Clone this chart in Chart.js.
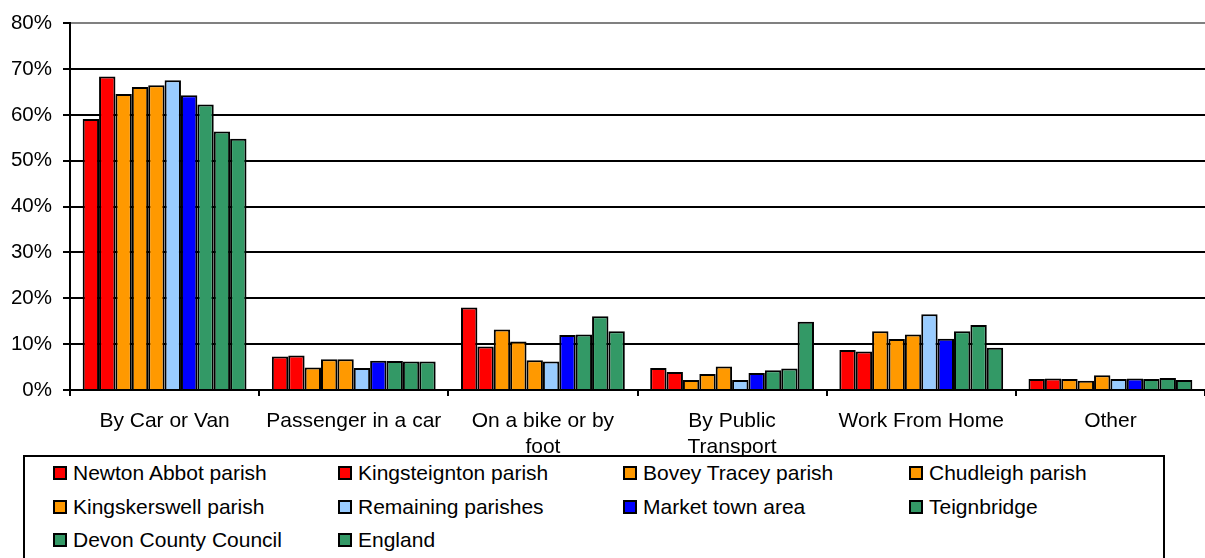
<!DOCTYPE html>
<html>
<head>
<meta charset="utf-8">
<script src="https://cdn.jsdelivr.net/npm/chart.js@4/dist/chart.umd.min.js"></script>
<style>
  html, body { margin: 0; padding: 0; background: #fff; }
  #wrap { position: relative; width: 1205px; height: 558px; overflow: hidden; }
  #legend {
    position: absolute; left: 23px; top: 455px; width: 1142px; height: 120px;
    border: 2px solid #000; background: #fff; box-sizing: border-box;
    font-family: "Liberation Sans", Arial, sans-serif; font-size: 21px; color: #000;
  }
  .item { position: absolute; display: flex; align-items: center; height: 24px; white-space: nowrap; }
  .sw { width: 10px; height: 10px; border: 2px solid #000; margin-right: 6px; }
</style>
</head>
<body>
<div id="wrap">
  <canvas id="c" width="1205" height="558"></canvas>
  <div id="legend"></div>
</div>
<script>
const categories = ['By Car or Van', 'Passenger in a car', ['On a bike or by', 'foot'], ['By Public', 'Transport'], 'Work From Home', 'Other'];
const yTicks = [0, 10, 20, 30, 40, 50, 60, 70, 80];

const newtonAbbot   = [59.1, 7.3, 18.0, 4.8, 8.7, 2.4];
const kingsteignton = [68.4, 7.5, 9.5, 3.9, 8.4, 2.5];
const boveyTracey   = [64.6, 4.9, 13.2, 2.2, 12.8, 2.4];
const chudleigh     = [66.1, 6.7, 10.6, 3.5, 11.1, 2.0];
const kingskerswell = [66.5, 6.7, 6.5, 5.1, 12.1, 3.2];
const remaining     = [67.6, 4.8, 6.2, 2.2, 16.5, 2.4];
const marketTown    = [64.3, 6.4, 12.0, 3.7, 11.2, 2.5];
const teignbridge   = [62.3, 6.3, 12.1, 4.3, 12.8, 2.4];
const devon         = [56.4, 6.2, 16.1, 4.7, 14.2, 2.6];
const england       = [54.8, 6.2, 12.8, 14.9, 9.2, 2.2];

const seriesNames = ['Newton Abbot parish', 'Kingsteignton parish', 'Bovey Tracey parish', 'Chudleigh parish',
  'Kingskerswell parish', 'Remaining parishes', 'Market town area', 'Teignbridge',
  'Devon County Council', 'England'];
const seriesData = [newtonAbbot, kingsteignton, boveyTracey, chudleigh, kingskerswell, remaining, marketTown, teignbridge, devon, england];
const seriesColors = ['#FF0000', '#FF0000', '#FF9900', '#FF9900', '#FF9900', '#99CCFF', '#0000FF', '#339966', '#339966', '#339966'];

const FONT = '"Liberation Sans", Arial, sans-serif';

const chart = new Chart(document.getElementById('c'), {
  type: 'bar',
  data: {
    labels: categories,
    datasets: seriesNames.map((n, i) => ({
      label: n,
      data: seriesData[i],
      backgroundColor: seriesColors[i],
      borderColor: '#000',
      borderWidth: 2,
      categoryPercentage: 0.866,
      barPercentage: 1.0
    }))
  },
  options: {
    responsive: false,
    animation: false,
    layout: { padding: { top: 20, right: 0, left: 0, bottom: 0 } },
    plugins: { legend: { display: false }, tooltip: { enabled: false } },
    scales: {
      x: {
        grid: { offset: true, drawOnChartArea: false, drawTicks: true, tickLength: 6, tickColor: '#000', lineWidth: 2 },
        border: { color: '#000', width: 2 },
        ticks: { color: '#000', font: { family: FONT, size: 21, lineHeight: 1.25 }, padding: 12, maxRotation: 0, autoSkip: false },
        afterFit: s => { s.height = 168; }
      },
      y: {
        min: 0, max: 80,
        afterBuildTicks: s => { s.ticks = yTicks.map(v => ({ value: v })); },
        grid: {
          color: ctx => (ctx.tick && ctx.tick.value === 80) ? '#808080' : '#000',
          tickColor: '#000', lineWidth: 2, tickLength: 7
        },
        border: { color: '#000', width: 2 },
        ticks: { color: '#000', font: { family: FONT, size: 20.5 }, padding: 11, callback: v => v + '%' },
        afterFit: s => { s.width = 70; }
      }
    }
  }
});

// HTML legend in 4 columns
const legend = document.getElementById('legend');
const colX = [28, 313, 598, 884];
const rowY = [4, 38, 71];
seriesNames.forEach((n, i) => {
  const d = document.createElement('div');
  d.className = 'item';
  d.style.left = colX[i % 4] + 'px';
  d.style.top = rowY[Math.floor(i / 4)] + 'px';
  d.innerHTML = '<span class="sw" style="background:' + seriesColors[i] + '"></span><span>' + n + '</span>';
  legend.appendChild(d);
});
</script>
</body>
</html>
